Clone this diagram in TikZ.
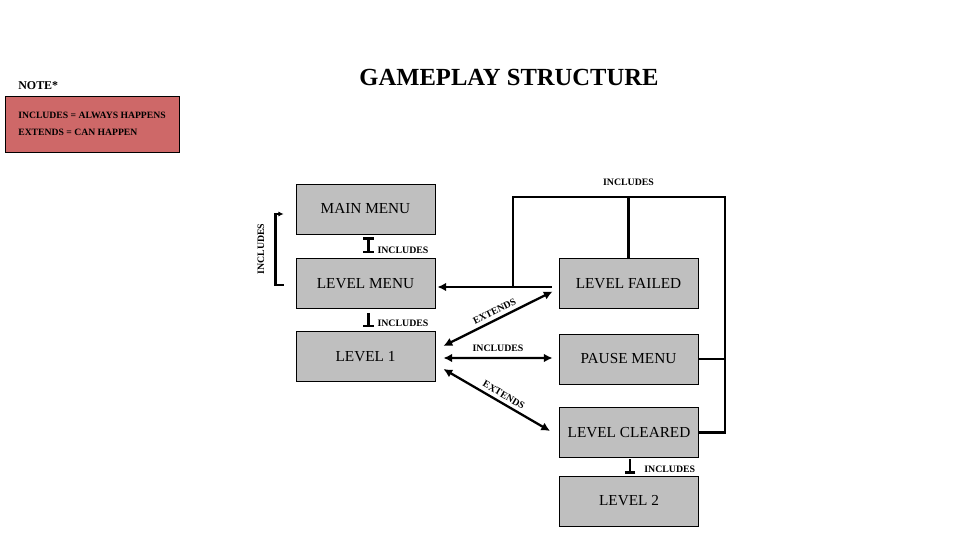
\documentclass[tikz,border=0pt]{standalone}
\usepackage{fontspec}
\setmainfont{Liberation Serif}
\usetikzlibrary{positioning,arrows.meta}
\definecolor{notered}{RGB}{206,104,104}
\definecolor{boxgray}{RGB}{191,191,191}

\begin{document}
\begin{tikzpicture}[x=0.02cm,y=-0.02cm,>={Latex[length=5pt,width=5pt]},
  screen/.style={draw,line width=0.5pt,fill=boxgray,minimum width=2.78cm,minimum height=1cm,inner sep=0pt,font=\fontsize{8.7}{10}\selectfont},
  wire/.style={line width=1.3pt},
  tag/.style={font=\fontsize{5.6}{6}\selectfont\bfseries,inner sep=1pt}]
\useasboundingbox (0,0) rectangle (960,560);
\node[font=\fontsize{14}{16}\selectfont\bfseries] (title) at (509,77) {GAMEPLAY STRUCTURE};
\node[anchor=west,inner sep=0pt,font=\fontsize{6.8}{8}\selectfont\bfseries] (notehead) at (18,86) {NOTE*};
\node[draw,line width=0.5pt,fill=notered,minimum width=3.48cm,minimum height=1.12cm,align=left,font=\fontsize{5.5}{9.6}\selectfont\bfseries] (note) at (92,124) {INCLUDES = ALWAYS HAPPENS\\EXTENDS = CAN HAPPEN};
\node[screen] (mainmenu) at (365.5,209) {MAIN MENU};
\node[screen] (levelmenu) at (365.5,283.5) {LEVEL MENU};
\node[screen] (level1) at (365.5,356.5) {LEVEL 1};
\node[screen] (levelfailed) at (628.5,283.5) {LEVEL FAILED};
\node[screen] (pausemenu) at (628.5,359) {PAUSE MENU};
\node[screen] (levelcleared) at (629,432.5) {LEVEL CLEARED};
\node[screen] (level2) at (629,501) {LEVEL 2};
\draw[wire,{Bar[width=6pt]}-{Bar[width=6pt]}] ([shift={(3,3)}]mainmenu.south) -- ([shift={(3,-5)}]levelmenu.north) node[tag,anchor=west,pos=0.8,xshift=3.5pt] {INCLUDES};
\draw[wire,-{Bar[width=6pt]}] ([shift={(3,4)}]levelmenu.south) -- ([shift={(3,-4)}]level1.north) node[tag,anchor=west,pos=0.75,xshift=3.5pt] {INCLUDES};
\draw[wire,-{Bar[width=6pt]}] ([shift={(1,1.5)}]levelcleared.south) -- ([shift={(1,-2)}]level2.north) node[tag,anchor=west,pos=0.67,xshift=6.5pt] {INCLUDES};
\draw[wire,-{Latex[length=3pt,width=3pt]}] ([shift={(-12,1.5)}]levelmenu.west) -- ++(-8,0) |- ([shift={(-12,5)}]mainmenu.west);
\node[tag,rotate=90] (sidetag) at (261,249) {INCLUDES};
\coordinate (loopnw) at (513,197);
\coordinate (loopne) at (725,197);
\coordinate (loopsw) at (513,287);
\draw[wire,->] ([shift={(-7,3.5)}]levelfailed.west) -- ([shift={(2,3.5)}]levelmenu.east);
\draw[wire] (loopsw) -- (loopnw) -- (loopne) |- (levelcleared.east);
\draw[wire] (levelfailed.north) -- (levelfailed.north |- loopnw) node[tag,above=5pt] {INCLUDES};
\draw[wire] (pausemenu.east) -- (pausemenu.east -| loopne);
\draw[wire,<->] ([shift={(8,-10.5)}]level1.east) -- ([shift={(-6,8)}]levelfailed.west) node[tag,midway,sloped,above=1pt] {EXTENDS};
\draw[wire,<->] ([shift={(8,1.5)}]level1.east) -- ([shift={(-6,-1)}]pausemenu.west) node[tag,midway,above=2pt] {INCLUDES};
\draw[wire,<->] ([shift={(8,12.5)}]level1.east) -- ([shift={(-9,-1.5)}]levelcleared.west) node[tag,midway,sloped,above=1pt,xshift=2pt] {EXTENDS};
\end{tikzpicture}
\end{document}
